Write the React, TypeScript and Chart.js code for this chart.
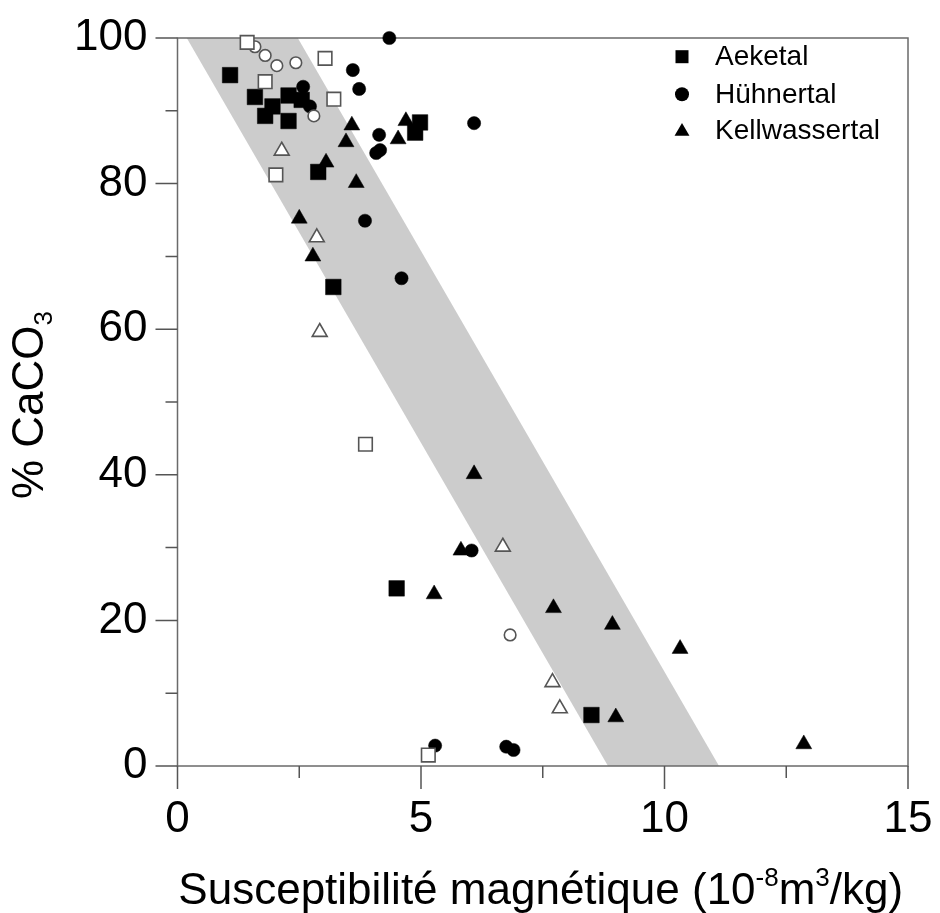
import React, { useEffect, useRef } from 'react';
import { Chart, registerables } from 'chart.js';

Chart.register(...registerables);

const FONT = '"Liberation Sans", Arial, Helvetica, sans-serif';

// Aeketal (filled squares)
const aeketalX = [1.08, 1.59, 1.95, 1.80, 2.28, 2.55, 2.28, 2.89, 4.88, 4.98, 3.20, 4.50, 8.50];
const aeketalY = [94.9, 91.9, 90.6, 89.3, 92.1, 91.5, 88.6, 81.6, 87.0, 88.4, 65.8, 24.4, 7.0];
// Aeketal (open squares)
const aeketalOpenX = [1.43, 3.03, 1.80, 3.21, 2.02, 3.86, 5.15];
const aeketalOpenY = [99.4, 97.2, 94.0, 91.6, 81.2, 44.2, 1.5];

// Hühnertal (filled circles)
const huhnerX = [4.35, 3.60, 3.73, 2.58, 2.72, 4.14, 4.16, 4.08, 3.85, 4.60, 6.04, 6.09, 5.29, 6.75, 6.90];
const huhnerY = [100.0, 95.6, 93.0, 93.3, 90.6, 86.7, 84.6, 84.2, 74.9, 67.0, 29.6, 88.3, 2.8, 2.65, 2.2];
// Hühnertal (open circles)
const huhnerOpenX = [1.59, 1.80, 2.04, 2.43, 2.80, 6.83];
const huhnerOpenY = [98.8, 97.6, 96.2, 96.6, 89.3, 18.0];

// Kellwassertal (filled triangles)
const kellX = [3.58, 3.46, 4.69, 4.53, 3.05, 3.67, 2.50, 2.78, 6.09, 5.82, 5.27, 7.72, 8.93, 10.32, 9.00, 12.86];
const kellY = [88.0, 85.7, 88.6, 86.1, 82.9, 80.1, 75.2, 70.0, 40.1, 29.6, 23.6, 21.7, 19.4, 16.1, 6.7, 3.0];
// Kellwassertal (open triangles)
const kellOpenX = [2.14, 2.86, 2.92, 6.68, 7.70, 7.85];
const kellOpenY = [84.5, 72.6, 59.6, 30.1, 11.5, 7.9];

// Grey band (parallelogram corners)
const bandX = [0.19, 2.47, 11.12, 8.84, 0.19];
const bandY = [100, 100, 0, 0, 100];

const xMajorTicks = [0, 5, 10, 15];
const yMajorTicks = [0, 20, 40, 60, 80, 100];
const legendLabels = ['Aeketal', 'Hühnertal', 'Kellwassertal'];
const legendShapes = ['rect', 'circle', 'triangle'];

const pts = (xs: number[], ys: number[]) => xs.map((x, i) => ({ x, y: ys[i] }));

function drawShape(ctx: CanvasRenderingContext2D, shape: string, x: number, y: number, r: number) {
  ctx.beginPath();
  if (shape === 'rect') {
    const h = r * Math.SQRT1_2;
    ctx.rect(x - h, y - h, 2 * h, 2 * h);
  } else if (shape === 'circle') {
    ctx.arc(x, y, r, 0, Math.PI * 2);
  } else {
    let a = 0;
    ctx.moveTo(x + Math.sin(a) * r, y - Math.cos(a) * r);
    a += (2 * Math.PI) / 3;
    ctx.lineTo(x + Math.sin(a) * r, y - Math.cos(a) * r);
    a += (2 * Math.PI) / 3;
    ctx.lineTo(x + Math.sin(a) * r, y - Math.cos(a) * r);
    ctx.closePath();
  }
  ctx.fill();
}

type Part = { t: string; sup?: boolean; sub?: boolean };

function drawRich(ctx: CanvasRenderingContext2D, parts: Part[], cx: number, baseY: number, size: number, small: number) {
  const fontOf = (p: Part) => `${p.sup || p.sub ? small : size}px ${FONT}`;
  let total = 0;
  const widths = parts.map((p) => {
    ctx.font = fontOf(p);
    const w = ctx.measureText(p.t).width;
    total += w;
    return w;
  });
  let x = cx - total / 2;
  ctx.textAlign = 'left';
  ctx.textBaseline = 'alphabetic';
  parts.forEach((p, i) => {
    ctx.font = fontOf(p);
    const dy = p.sup ? -size * 0.42 : p.sub ? size * 0.2 : 0;
    ctx.fillText(p.t, x, baseY + dy);
    x += widths[i];
  });
}

const decorPlugin = {
  id: 'decor',
  afterDatasetDraw(chart: any, args: any) {
    if (args.index !== 0) return;
    const { ctx, chartArea: a } = chart;
    ctx.save();
    ctx.strokeStyle = '#6a6a6a';
    ctx.lineWidth = 1.5;
    ctx.strokeRect(a.left, a.top, a.right - a.left, a.bottom - a.top);
    ctx.restore();
  },
  afterDraw(chart: any) {
    const { ctx, chartArea: a, scales } = chart;
    const xs = scales.x;
    const ys = scales.y;
    ctx.save();
    ctx.strokeStyle = '#555';
    ctx.lineWidth = 1.5;
    ctx.beginPath();
    xs.ticks.forEach((t: any) => {
      const px = xs.getPixelForValue(t.value);
      const len = xMajorTicks.includes(t.value) ? 23 : 12;
      ctx.moveTo(px, a.bottom);
      ctx.lineTo(px, a.bottom + len);
    });
    ys.ticks.forEach((t: any) => {
      const py = ys.getPixelForValue(t.value);
      const len = yMajorTicks.includes(t.value) ? 22 : 12;
      ctx.moveTo(a.left, py);
      ctx.lineTo(a.left - len, py);
    });
    ctx.stroke();

    // axis titles
    ctx.fillStyle = '#000';
    drawRich(
      ctx,
      [
        { t: 'Susceptibilité magnétique (10' },
        { t: '-8', sup: true },
        { t: 'm' },
        { t: '3', sup: true },
        { t: '/kg)' },
      ],
      (a.left + a.right) / 2 - 2,
      904,
      44,
      26
    );
    ctx.save();
    ctx.translate(43, (a.top + a.bottom) / 2 + 3);
    ctx.rotate(-Math.PI / 2);
    drawRich(ctx, [{ t: '% CaCO' }, { t: '3', sub: true }], 0, 0, 44, 26);
    ctx.restore();

    // legend
    const rowsY = [56.7, 94.3, 130];
    const rads = [9.2, 7, 8.6];
    ctx.font = `28px ${FONT}`;
    ctx.textAlign = 'left';
    ctx.textBaseline = 'middle';
    legendLabels.forEach((lab, i) => {
      ctx.fillStyle = '#000';
      drawShape(ctx, legendShapes[i], 682, rowsY[i] + (legendShapes[i] === 'triangle' ? 1.5 : 0), rads[i]);
      ctx.fillText(lab, 715, rowsY[i] + 1);
    });
    ctx.restore();
  },
};

export default function App() {
  const ref = useRef<HTMLCanvasElement>(null);
  useEffect(() => {
    if (!ref.current) return;
    const filled = (shape: string, r: number) => ({
      pointStyle: shape,
      pointRadius: r,
      pointBackgroundColor: '#000',
      pointBorderColor: '#000',
      pointBorderWidth: 0.5,
      showLine: false,
      clip: false,
      order: 1,
    });
    const open = (shape: string, r: number) => ({
      pointStyle: shape,
      pointRadius: r,
      pointBackgroundColor: '#fff',
      pointBorderColor: '#555',
      pointBorderWidth: 1.6,
      showLine: false,
      clip: false,
      order: 0,
    });
    const chart = new Chart(ref.current, {
      type: 'scatter',
      data: {
        datasets: [
          {
            type: 'line',
            label: 'band',
            data: pts(bandX, bandY),
            showLine: true,
            borderWidth: 0,
            borderColor: 'rgba(0,0,0,0)',
            backgroundColor: '#cccccc',
            fill: 'shape',
            pointRadius: 0,
            tension: 0,
            order: 10,
          } as any,
          { label: 'Aeketal', data: pts(aeketalX, aeketalY), ...filled('rect', 11) },
          { label: 'Hühnertal', data: pts(huhnerX, huhnerY), ...filled('circle', 6.6) },
          { label: 'Kellwassertal', data: pts(kellX, kellY), ...filled('triangle', 9.2) },
          { label: 'Aeketal open', data: pts(aeketalOpenX, aeketalOpenY), ...open('rect', 9.6) },
          { label: 'Hühnertal open', data: pts(huhnerOpenX, huhnerOpenY), ...open('circle', 5.8) },
          { label: 'Kellwassertal open', data: pts(kellOpenX, kellOpenY), ...open('triangle', 8.6) },
        ] as any,
      },
      options: {
        responsive: false,
        animation: false,
        devicePixelRatio: 1,
        layout: { padding: { top: 38, right: 32, left: 0, bottom: 0 } },
        plugins: { legend: { display: false }, tooltip: { enabled: false } },
        scales: {
          x: {
            type: 'linear',
            min: 0,
            max: 15,
            border: { display: false },
            grid: { display: false, drawTicks: false },
            ticks: {
              stepSize: 2.5,
              autoSkip: false,
              maxRotation: 0,
              padding: 27,
              color: '#000',
              font: { family: FONT, size: 44 },
              callback: (v: any) => (xMajorTicks.includes(Number(v)) ? String(v) : ''),
            },
            afterFit: (s: any) => {
              s.height = 147;
              s.paddingLeft = 0;
              s.paddingRight = 0;
              s.paddingTop = 0;
              s.paddingBottom = 0;
            },
          },
          y: {
            type: 'linear',
            min: 0,
            max: 100,
            border: { display: false },
            grid: { display: false, drawTicks: false },
            ticks: {
              stepSize: 10,
              autoSkip: false,
              padding: 30,
              color: '#000',
              font: { family: FONT, size: 44 },
              callback: (v: any) => (yMajorTicks.includes(Number(v)) ? String(v) : ''),
            },
            afterFit: (s: any) => {
              s.width = 177.5;
              s.paddingLeft = 0;
              s.paddingRight = 0;
              s.paddingTop = 0;
              s.paddingBottom = 0;
            },
          },
        },
      } as any,
      plugins: [decorPlugin],
    });
    return () => chart.destroy();
  }, []);
  return (
    <div style={{ position: 'absolute', left: 0, top: 0, width: 940, height: 913, background: '#fff' }}>
      <canvas ref={ref} width={940} height={913} style={{ display: 'block' }} />
    </div>
  );
}
